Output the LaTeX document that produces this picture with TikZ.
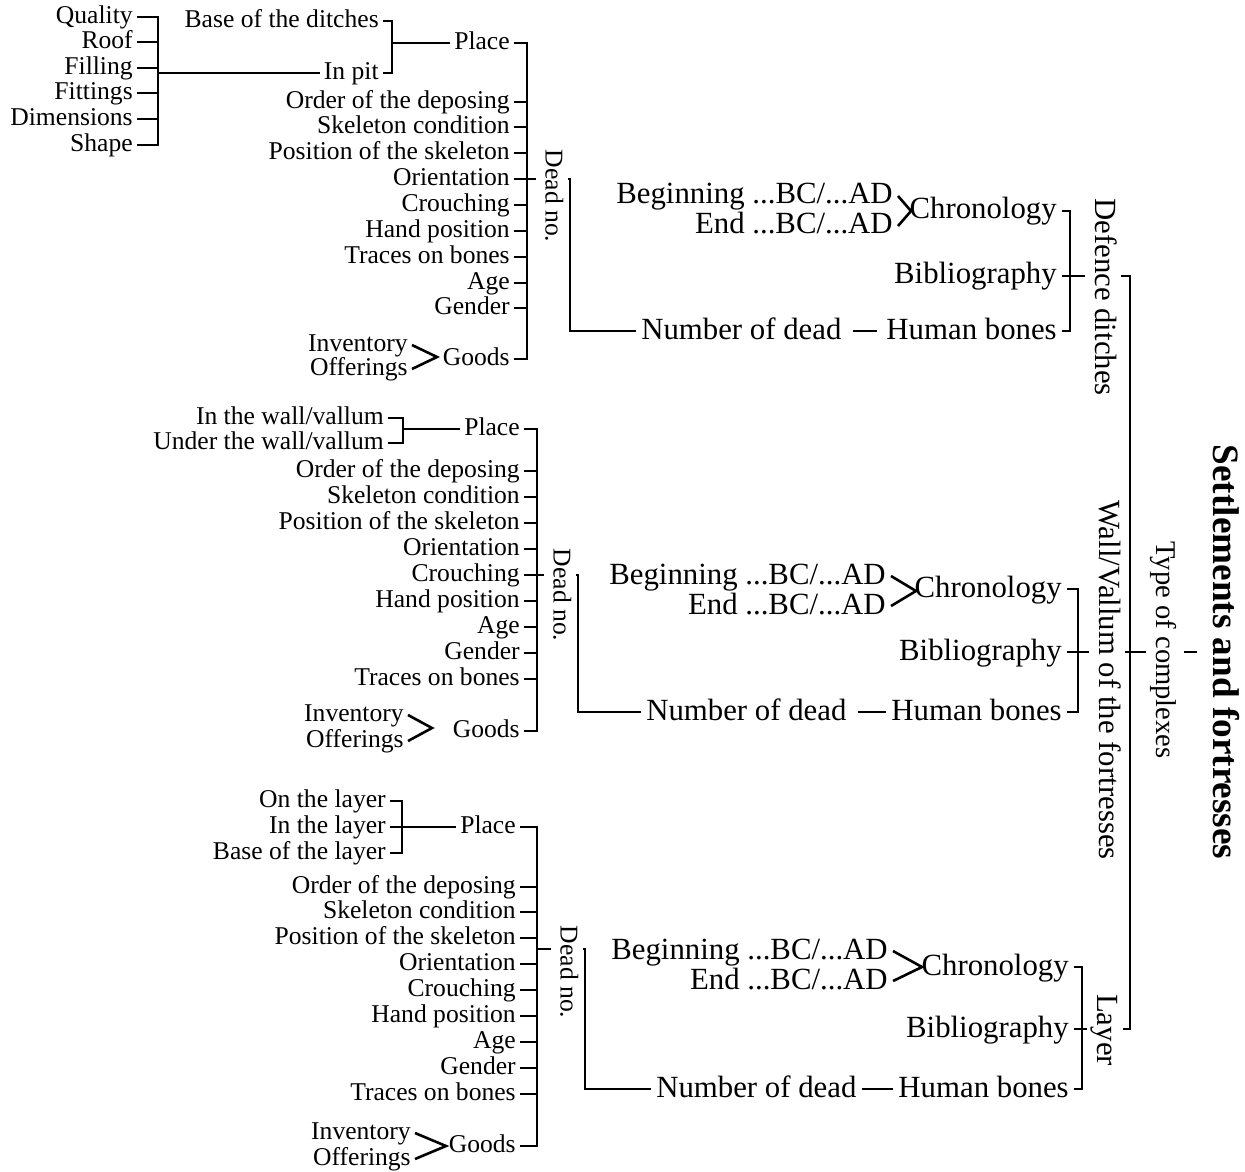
\documentclass[tikz,border=0pt]{standalone}
\usepackage{fontspec}
\setmainfont{Liberation Serif}
\tikzset{
  lbl/.style={font=\fontsize{12.8}{14}\selectfont, inner xsep=1.5pt, inner ysep=0pt, text height=9pt, text depth=2.5pt},
  bigl/.style={font=\fontsize{15.4}{17}\selectfont, inner xsep=2pt, inner ysep=0pt, text height=11pt, text depth=3pt},
  vert/.style={rotate=-90, inner xsep=0pt, inner ysep=1.5pt},
  wire/.style={line width=1.3pt}
}
\begin{document}
\begin{tikzpicture}[x=0.5pt, y=-0.5pt, wire]
\useasboundingbox (0,0) rectangle (1245,1171);

% defence ditches
\node[lbl, anchor=east] (qual) at (137,17) {Quality};
\node[lbl, anchor=east] (roof) at (137,42) {Roof};
\node[lbl, anchor=east] (fill) at (137,68) {Filling};
\node[lbl, anchor=east] (fitt) at (137,93) {Fittings};
\node[lbl, anchor=east] (dims) at (137,119) {Dimensions};
\node[lbl, anchor=east] (shap) at (137,145) {Shape};
\coordinate (lb1) at (158,17);
\draw (qual.east) -| (shap.east -| lb1) -- (shap.east);
\foreach \n in {roof,fill,fitt,dims} \draw (\n.east) -- (\n.east -| lb1);

\node[lbl, anchor=east] (base1) at (383,21) {Base of the ditches};
\node[lbl, anchor=east] (inpit) at (383,73) {In pit};
\coordinate (pb1) at (392,21);
\draw (base1.east) -| (inpit.east -| pb1) -- (inpit.east);
\draw (inpit.west) -- (inpit.west -| lb1);

\node[lbl, anchor=east] (place1) at (514,43) {Place};
\node[lbl, anchor=east] (ord1) at (514,102) {Order of the deposing};
\node[lbl, anchor=east] (skel1) at (514,127) {Skeleton condition};
\node[lbl, anchor=east] (pos1) at (514,153) {Position of the skeleton};
\node[lbl, anchor=east] (ori1) at (514,179) {Orientation};
\node[lbl, anchor=east] (crou1) at (514,205) {Crouching};
\node[lbl, anchor=east] (hand1) at (514,231) {Hand position};
\node[lbl, anchor=east] (trac1) at (514,257) {Traces on bones};
\node[lbl, anchor=east] (age1) at (514,283) {Age};
\node[lbl, anchor=east] (gend1) at (514,308) {Gender};
\node[lbl, anchor=east] (good1) at (514,359) {Goods};
\node[lbl, anchor=east] (inv1) at (412,345) {Inventory};
\node[lbl, anchor=east] (off1) at (412,369) {Offerings};
\coordinate (gv1) at (437,357);
\draw (inv1.east) -- (gv1) -- (off1.east);
\draw (place1.west) -- (place1.west -| pb1);
\coordinate (bar1) at (527,43);
\draw (place1.east) -| (good1.east -| bar1) -- (good1.east);
\foreach \n in {ord1,skel1,pos1,ori1,crou1,hand1,trac1,age1,gend1} \draw (\n.east) -- (\n.east -| bar1);

\node[lbl, vert] (dead1) at (552,196) {Dead no.};
\node[bigl, anchor=west] (nod1) at (636,331) {Number of dead};
\node[bigl, anchor=east] (hb1) at (1062,331) {Human bones};
\coordinate (db1) at (570,179);
\draw (ori1.east -| bar1) -- (ori1.east -| dead1.south);
\draw (ori1.east -| dead1.north) -- (db1) |- (nod1.west);
\draw[shorten <=3pt, shorten >=2pt] (nod1.east) -- (hb1.west);

\node[bigl, anchor=east] (beg1) at (898,196) {Beginning ...BC/...AD};
\node[bigl, anchor=east] (end1) at (898,226) {End ...BC/...AD};
\coordinate (cv1) at (911,211);
\draw (beg1.east) -- (cv1) -- (end1.east);
\node[bigl, anchor=east] (chr1) at (1062,211) {Chronology};
\node[bigl, anchor=east] (bib1) at (1062,276) {Bibliography};
\coordinate (rb1) at (1070,211);
\draw (chr1.east) -| (hb1.east -| rb1) -- (hb1.east);
\node[bigl, vert] (ditch) at (1103,297) {Defence ditches};
\draw (bib1.east) -- (bib1.east -| ditch.south);

% wall / vallum
\node[lbl, anchor=east] (inw) at (388,418) {In the wall/vallum};
\node[lbl, anchor=east] (undw) at (388,443) {Under the wall/vallum};
\coordinate (pb2) at (403,418);
\draw (inw.east) -| (undw.east -| pb2) -- (undw.east);

\node[lbl, anchor=east] (place2) at (524,429) {Place};
\node[lbl, anchor=east] (ord2) at (524,471) {Order of the deposing};
\node[lbl, anchor=east] (skel2) at (524,497) {Skeleton condition};
\node[lbl, anchor=east] (pos2) at (524,523) {Position of the skeleton};
\node[lbl, anchor=east] (ori2) at (524,549) {Orientation};
\node[lbl, anchor=east] (crou2) at (524,575) {Crouching};
\node[lbl, anchor=east] (hand2) at (524,601) {Hand position};
\node[lbl, anchor=east] (age2) at (524,627) {Age};
\node[lbl, anchor=east] (gend2) at (524,653) {Gender};
\node[lbl, anchor=east] (trac2) at (524,679) {Traces on bones};
\node[lbl, anchor=east] (good2) at (524,731) {Goods};
\node[lbl, anchor=east] (inv2) at (408,715) {Inventory};
\node[lbl, anchor=east] (off2) at (408,741) {Offerings};
\coordinate (gv2) at (432,728);
\draw (inv2.east) -- (gv2) -- (off2.east);
\draw (place2.west) -- (place2.west -| pb2);
\coordinate (bar2) at (537,429);
\draw (place2.east) -| (good2.east -| bar2) -- (good2.east);
\foreach \n in {ord2,skel2,pos2,ori2,hand2,age2,gend2,trac2} \draw (\n.east) -- (\n.east -| bar2);

\node[lbl, vert] (dead2) at (560,595) {Dead no.};
\node[bigl, anchor=west] (nod2) at (641,712) {Number of dead};
\node[bigl, anchor=east] (hb2) at (1067,712) {Human bones};
\coordinate (db2) at (578,575);
\draw (crou2.east) -- (crou2.east -| dead2.south);
\draw (crou2.east -| dead2.north) -- (db2) |- (nod2.west);
\draw[shorten <=3pt] (nod2.east) -- (hb2.west);

\node[bigl, anchor=east] (beg2) at (891,576) {Beginning ...BC/...AD};
\node[bigl, anchor=east] (end2) at (891,606) {End ...BC/...AD};
\coordinate (cv2) at (916,591);
\draw (beg2.east) -- (cv2) -- (end2.east);
\node[bigl, anchor=east] (chr2) at (1067,589) {Chronology};
\node[bigl, anchor=east] (bib2) at (1067,652) {Bibliography};
\coordinate (rb2) at (1078,589);
\draw (chr2.east) -| (hb2.east -| rb2) -- (hb2.east);
\node[bigl, vert] (wall) at (1107,680) {Wall/Vallum of the fortresses};
\draw (bib2.east) -- (bib2.east -| wall.south);

% layer
\node[lbl, anchor=east] (onl) at (390,801) {On the layer};
\node[lbl, anchor=east] (inl) at (390,827) {In the layer};
\node[lbl, anchor=east] (basel) at (390,853) {Base of the layer};
\coordinate (pb3) at (402,801);
\draw (onl.east) -| (basel.east -| pb3) -- (basel.east);
\draw (inl.east) -- (inl.east -| pb3);

\node[lbl, anchor=east] (place3) at (520,827) {Place};
\node[lbl, anchor=east] (ord3) at (520,887) {Order of the deposing};
\node[lbl, anchor=east] (skel3) at (520,912) {Skeleton condition};
\node[lbl, anchor=east] (pos3) at (520,938) {Position of the skeleton};
\node[lbl, anchor=east] (ori3) at (520,964) {Orientation};
\node[lbl, anchor=east] (crou3) at (520,990) {Crouching};
\node[lbl, anchor=east] (hand3) at (520,1016) {Hand position};
\node[lbl, anchor=east] (age3) at (520,1042) {Age};
\node[lbl, anchor=east] (gend3) at (520,1068) {Gender};
\node[lbl, anchor=east] (trac3) at (520,1094) {Traces on bones};
\node[lbl, anchor=east] (good3) at (520,1146) {Goods};
\node[lbl, anchor=east] (inv3) at (415,1133) {Inventory};
\node[lbl, anchor=east] (off3) at (415,1159) {Offerings};
\coordinate (gv3) at (446,1146);
\draw (inv3.east) -- (gv3) -- (off3.east);
\draw (place3.west) -- (place3.west -| pb3);
\coordinate (bar3) at (537,827);
\draw (place3.east) -| (good3.east -| bar3) -- (good3.east);
\foreach \n in {ord3,skel3,pos3,ori3,crou3,hand3,age3,gend3,trac3} \draw (\n.east) -- (\n.east -| bar3);

\node[lbl, vert] (dead3) at (567,972) {Dead no.};
\node[bigl, anchor=west] (nod3) at (651,1089) {Number of dead};
\node[bigl, anchor=east] (hb3) at (1074,1089) {Human bones};
\coordinate (dl3) at (537,949);
\coordinate (db3) at (585,949);
\draw (dl3) -- (dl3 -| dead3.south);
\draw (dl3 -| dead3.north) -- (db3) |- (nod3.west);
\draw (nod3.east) -- (hb3.west);

\node[bigl, anchor=east] (beg3) at (893,951) {Beginning ...BC/...AD};
\node[bigl, anchor=east] (end3) at (893,981) {End ...BC/...AD};
\coordinate (cv3) at (922,967);
\draw (beg3.east) -- (cv3) -- (end3.east);
\node[bigl, anchor=east] (chr3) at (1074,967) {Chronology};
\node[bigl, anchor=east] (bib3) at (1074,1029) {Bibliography};
\coordinate (rb3) at (1082,967);
\draw (chr3.east) -| (hb3.east -| rb3) -- (hb3.east);
\node[bigl, vert] (layer) at (1105,1030) {Layer};
\draw (bib3.east) -- (bib3.east -| layer.south);

% type of complexes
\node[font=\fontsize{14.3}{16}\selectfont, vert, text height=10pt, text depth=3pt] (type) at (1163,650) {Type of complexes};
\node[font=\bfseries\fontsize{18.6}{20}\selectfont, vert, text height=13pt, text depth=4pt] (title) at (1222,652) {Settlements and fortresses};
\coordinate (trunk) at (1130,276);
\draw (bib1.east -| ditch.north) -| (bib3.east -| trunk) -- (bib3.east -| layer.north);
\draw (bib2.east -| wall.north) -- (bib2.east -| type.south);
\draw[shorten <=2pt, shorten >=2pt] (bib2.east -| type.north) -- (bib2.east -| title.south);
\end{tikzpicture}
\end{document}
